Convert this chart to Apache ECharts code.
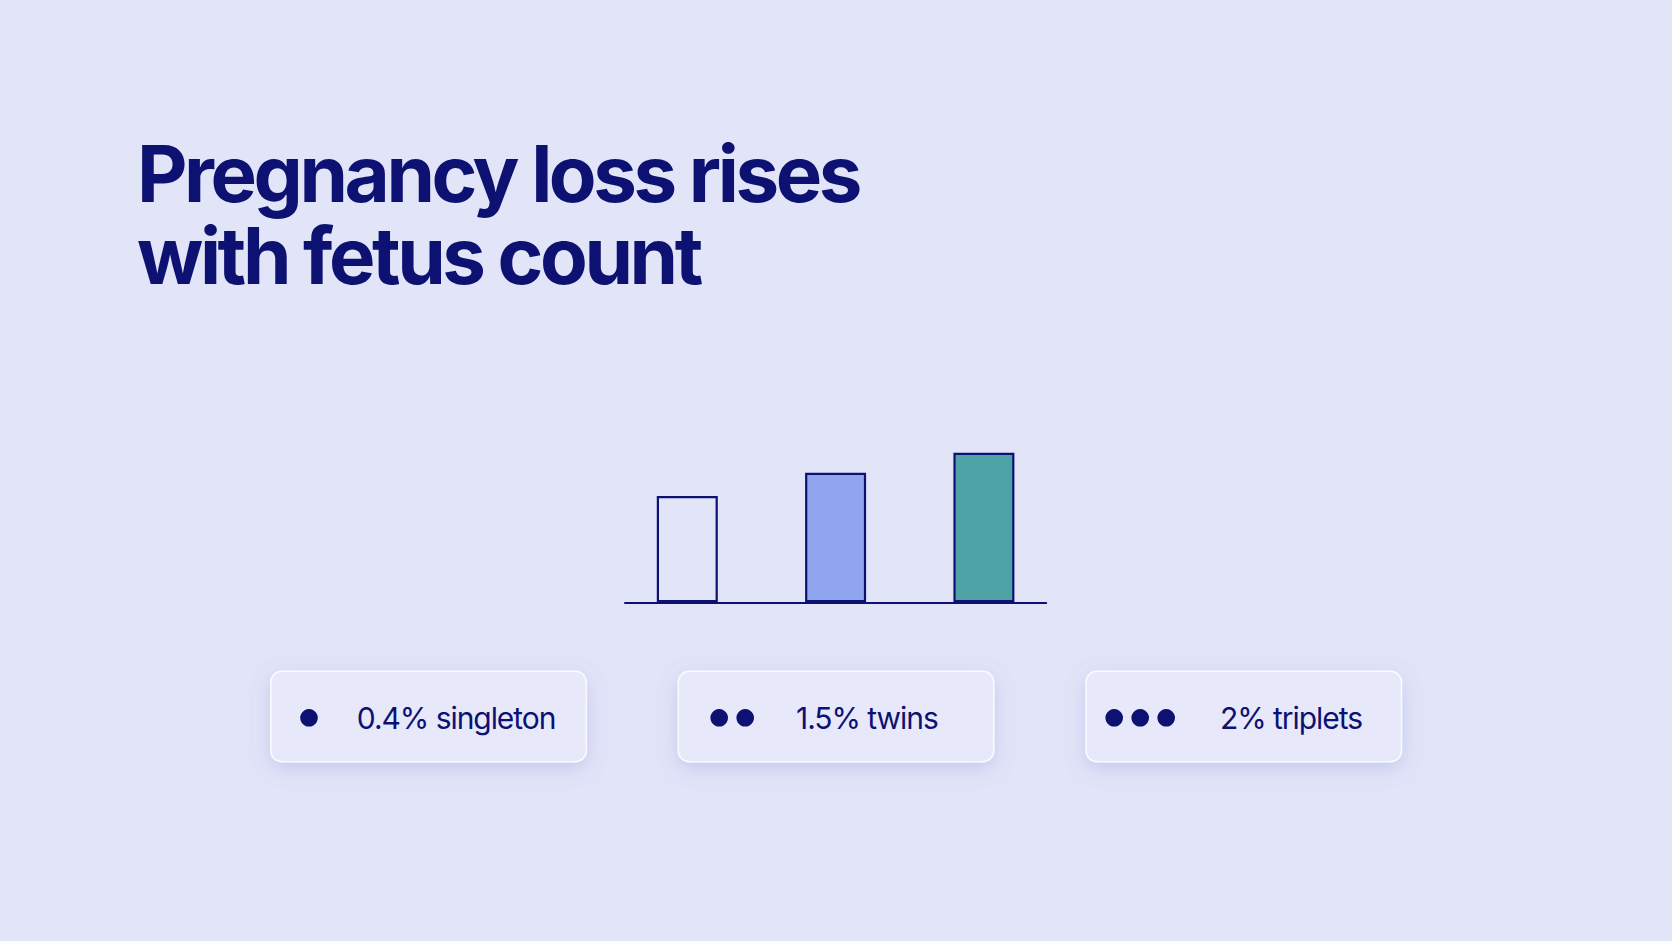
<!DOCTYPE html>
<html>
<head>
<meta charset="utf-8">
<script src="https://cdn.jsdelivr.net/npm/echarts@6/dist/echarts.min.js"></script>
<style>
  html, body { margin: 0; padding: 0; background: #e2e5f8; }
  #chart { width: 1672px; height: 941px; }
  #chart svg text { letter-spacing: -0.035em; }
  #chart svg text[style*="78px"] { letter-spacing: -0.044em; }
</style>
</head>
<body>
<div id="chart"></div>
<script>
// ---- data ----
const titleLines = ['Pregnancy loss rises', 'with fetus count'];
const categories = ['singleton', 'twins', 'triplets'];
const lossRates = [0.4, 1.5, 2];          // percent
const fetusCounts = [1, 2, 3];
const barHeights = [0.711, 0.866, 1.0];   // relative bar heights as drawn (tallest = 1)

// ---- styles / layout ----
const NAVY = '#0d1172';
const BG = '#e2e5f8';
const barColors = ['#e1e5f7', '#8fa5ee', '#4da3a6'];
const cardLeft = [270.8, 678.3, 1086];
const cardTop = 671.3, cardW = 315.5, cardH = 90.5;
const dotStart = [38.2, 40.9, 28.2];
const textStart = [86, 117.7, 134];
const dotGap = 26, dotR = 8.8, rowY = 717.8;

const chart = echarts.init(document.getElementById('chart'), null, { renderer: 'svg' });

const graphics = [];
categories.forEach((cat, i) => {
  const left = cardLeft[i];
  graphics.push({
    type: 'rect',
    shape: { x: left, y: cardTop, width: cardW, height: cardH, r: 11 },
    style: {
      fill: '#e7e9fb', stroke: 'rgba(255,255,255,0.85)', lineWidth: 1.5,
      shadowBlur: 20, shadowOffsetY: 6, shadowColor: 'rgba(110,120,200,0.26)'
    },
    z: 1
  });
  for (let d = 0; d < fetusCounts[i]; d++) {
    graphics.push({
      type: 'circle',
      shape: { cx: left + dotStart[i] + d * dotGap, cy: rowY, r: dotR },
      style: { fill: NAVY },
      z: 2
    });
  }
  graphics.push({
    type: 'text',
    x: left + textStart[i],
    y: rowY,
    style: {
      text: lossRates[i] + '% ' + cat,
      fill: NAVY,
      font: '400 30px Inter',
      verticalAlign: 'middle',
      align: 'left'
    },
    z: 2
  });
});

const option = {
  backgroundColor: BG,
  animation: false,
  title: {
    text: titleLines.join('\n'),
    left: 137,
    top: 132,
    padding: 0,
    textStyle: {
      fontFamily: 'Inter',
      fontWeight: 700,
      fontSize: 78,
      lineHeight: 82,
      color: NAVY
    }
  },
  grid: { left: 625, width: 421.2, top: 452.7, bottom: 338.7, containLabel: false },
  xAxis: {
    type: 'value',
    min: 0.58,
    max: 3.42,
    axisLine: { show: true, onZero: false, lineStyle: { color: NAVY, width: 2 } },
    axisTick: { show: false },
    axisLabel: { show: false },
    splitLine: { show: false }
  },
  yAxis: {
    type: 'value',
    min: 0,
    max: 1,
    show: false
  },
  series: [{
    type: 'bar',
    barWidth: 61,
    data: fetusCounts.map((c, i) => ({
      value: [c, barHeights[i]],
      itemStyle: { color: barColors[i], borderColor: NAVY, borderWidth: 2.2 }
    })),
    z: 1
  }],
  graphic: graphics
};
chart.setOption(option);
</script>
</body>
</html>
